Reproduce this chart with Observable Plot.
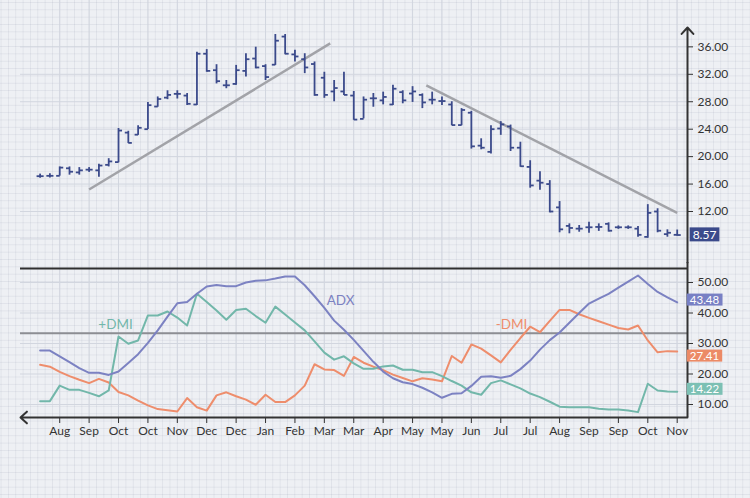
<!DOCTYPE html>
<html>
<head>
<meta charset="utf-8">
<script src="https://cdn.jsdelivr.net/npm/d3@7"></script>
<script src="https://cdn.jsdelivr.net/npm/@observablehq/plot@0.6"></script>
<style>
html, body { margin: 0; padding: 0; background: #eef0f4; }
#wrap {
  position: relative; width: 750px; height: 498px; overflow: hidden;
  background-color: #eef0f4;
  background-image:
    linear-gradient(to right, rgba(160,166,184,0.18) 1px, transparent 1px),
    linear-gradient(to bottom, rgba(160,166,184,0.18) 1px, transparent 1px);
  background-size: 7.35px 7.35px;
  background-position: 0.6px 2px;
  font-family: Lato, sans-serif;
}
#top, #bot { position: absolute; left: 0; }
#top { top: 0; }
#bot { top: 262px; }
</style>
</head>
<body>
<div id="wrap"><div id="top"></div><div id="bot"></div></div>
<script>
// ---------- DATA ----------
const monthLabels = ["Aug","Sep","Oct","Oct","Nov","Dec","Dec","Jan","Feb","Mar","Mar","Apr","May","May","Jun","Jul","Jul","Aug","Sep","Sep","Oct","Nov"];
const priceTicks = [12, 16, 20, 24, 28, 32, 36];
const indicatorTicks = [10, 20, 30, 40, 50];

const opens  = [17.15,17.2,17.2,18.3,17.7,18.1,18.0,18.8,19.2,23.5, 23.2,24.0,27.3,28.6,29.15,28.9,27.6,35.0,32.6,30.4, 30.6,32.5,34.3,33.2,33.4,37.5,34.9,34.2,33.5,31.5, 29.5,29.5,28.9,25.5,28.5,28.2,27.6,29.4,29.2,29.0, 28.3,28.1,27.6,24.6,26.4,21.6,20.7,24.1,24.4,21.3, 18.5,16.5,16.0,12.6,9.9,9.5,9.7,9.75,10.2,9.7, 9.7,9.5,8.3,12.0,8.7,8.6];
const highs  = [17.45,17.5,18.5,18.5,18.4,18.4,18.9,19.7,24.1,23.7, 24.5,27.9,28.7,29.6,29.6,29.2,35.2,35.6,33.4,31.1, 33.3,35.0,35.95,33.4,37.8,37.8,35.5,35.0,33.8,32.3, 31.1,32.3,29.5,28.7,29.2,29.4,30.4,29.6,30.2,29.15, 29.4,28.7,28.0,27.0,26.6,22.6,24.5,25.1,24.6,22.1, 19.4,17.8,16.5,13.45,10.2,9.96,10.45,10.2,10.35,9.9, 9.9,9.8,13.0,12.4,9.33,9.3];
const lows   = [16.85,16.9,17.15,17.3,17.3,17.7,17.0,18.5,19.1,21.9, 23.1,23.95,27.2,28.3,28.4,27.45,27.45,32.3,30.6,29.9, 30.4,31.6,32.8,31.1,33.3,34.85,33.8,32.1,28.8,28.5, 28.0,28.9,25.3,25.5,27.2,27.55,27.45,27.7,27.9,27.0, 27.55,27.45,24.5,24.5,21.1,21.0,20.4,23.1,20.75,18.45, 15.4,15.1,11.8,8.9,8.75,8.98,8.83,9.1,9.0,9.4, 9.4,8.25,8.1,8.9,8.25,8.4];
const closes = [17.15,17.2,18.4,17.8,18.0,18.1,18.7,19.3,23.8,22.0, 24.2,27.5,28.4,29.0,29.15,27.7,35.0,32.5,31.0,30.4, 32.6,34.2,33.0,31.6,36.9,35.0,34.6,33.0,29.0,29.0, 30.0,29.0,25.4,28.3,28.5,28.7,29.9,28.2,29.5,27.9, 28.3,28.1,24.6,26.8,21.5,21.3,24.0,24.7,21.3,18.6, 15.8,16.2,12.0,9.4,9.6,9.5,9.7,9.75,9.2,9.7, 9.7,8.6,11.8,9.2,8.9,8.57];

const adx     = [27.7,27.7,25.8,23.9,21.9,20.4,20.4,19.7,20.8,23.6, 26.5,30.2,34.3,38.8,43.2,43.6,46.3,48.7,49.2,48.8, 48.8,50.0,50.6,50.7,51.3,52.0,52.0,49.1,45.5,41.7, 37.5,34.5,31.2,27.6,24.0,20.8,18.6,17.3,16.7,15.5, 14.0,12.2,13.5,13.7,16.1,19.1,19.3,18.75,19.4,21.6, 24.4,28.0,31.1,33.6,36.8,40.0,43.1,44.7,46.3,48.3, 50.3,52.3,49.5,46.9,45.1,43.48];
const plusDMI = [11.1,11.1,16.2,14.8,14.8,13.8,12.7,14.6,32.3,29.9, 31.0,39.2,39.2,40.5,38.5,35.9,46.3,43.6,40.8,37.8, 41.0,41.4,39.0,36.8,42.1,39.5,36.9,34.3,30.7,27.0, 24.7,25.8,23.5,21.7,21.7,22.5,22.8,21.4,21.4,20.6, 20.6,19.3,17.7,16.2,14.0,13.2,17.0,17.9,16.6,15.3, 13.6,12.4,10.9,9.3,9.1,9.1,9.1,8.6,8.4,8.4, 8.0,7.5,16.8,14.6,14.3,14.22];
const minusDMI= [23.0,22.4,20.7,19.3,18.1,17.0,18.4,17.2,14.1,13.0, 11.3,9.7,8.5,8.1,7.7,12.1,9.1,8.0,13.0,14.0, 12.7,11.6,9.9,13.2,10.8,10.8,13.0,16.2,23.2,21.5, 21.3,19.4,25.6,23.7,22.4,21.3,19.8,18.7,17.6,18.6, 18.2,17.6,25.9,23.7,29.7,28.3,26.1,23.8,27.9,31.8, 35.5,33.7,37.4,41.0,41.0,39.6,38.4,37.3,36.2,35.1, 34.6,35.9,31.0,27.1,27.5,27.41];

const trendUpX = [5, 29.6],    trendUpV = [15.2, 36.5];
const trendDownX = [39.4, 65], trendDownV = [30.4, 11.8];
const levelUpper = 54.6, levelMid = 33.4;

// ---------- STYLE ----------
const NAVY = "#3b4a8b", C_ADX = "#7c82c2", C_PLUS = "#72b7aa", C_MINUS = "#ee8d6c";
const BOX_ADX = "#7880c4", BOX_PLUS = "#7cc0b4", BOX_MINUS = "#ec8a66";
const AXIS = "#333333", GRID = "#d2d6df", TREND = "#a2a3a8";
const N = closes.length;
const idx = d3.range(N);
const tickIdx = monthLabels.map((_, k) => 2 + 3 * k);
const X_DOMAIN = [-2, 66.05];
const XR = X_DOMAIN[1];
const fmt = d3.format(".2f");
const baseStyle = {background: "transparent", fontFamily: "Lato, sans-serif", fontSize: "12px", color: AXIS, overflow: "visible"};

const bars = idx.map(i => ({i, o: opens[i], h: highs[i], l: lows[i], c: closes[i]}));
const trends = [
  {x1: trendUpX[0], x2: trendUpX[1], y1: trendUpV[0], y2: trendUpV[1]},
  {x1: trendDownX[0], x2: trendDownX[1], y1: trendDownV[0], y2: trendDownV[1]}
];

const topY = [4.566, 42.76];
const topPlot = Plot.plot({
  width: 750, height: 262,
  marginLeft: 20, marginRight: 63, marginTop: 0, marginBottom: 0,
  style: baseStyle,
  x: {domain: X_DOMAIN, axis: null},
  y: {domain: topY, axis: "right", ticks: priceTicks, tickFormat: fmt, tickSize: 5, tickPadding: 5, label: null},
  marks: [
    Plot.gridX(tickIdx, {stroke: GRID, strokeOpacity: 1}),
    Plot.gridY([8, ...priceTicks], {stroke: GRID, strokeOpacity: 1}),
    Plot.link(trends, {x1: "x1", x2: "x2", y1: "y1", y2: "y2", stroke: TREND, strokeWidth: 2.5}),
    Plot.ruleX(bars, {x: "i", y1: "l", y2: "h", stroke: NAVY, strokeWidth: 1.8}),
    Plot.link(bars, {x1: d => d.i - 0.36, x2: "i", y1: "o", y2: "o", stroke: NAVY, strokeWidth: 1.8}),
    Plot.link(bars, {x1: "i", x2: d => d.i + 0.36, y1: "c", y2: "c", stroke: NAVY, strokeWidth: 1.8}),
    Plot.arrow([0], {x1: XR, x2: XR, y1: topY[0], y2: 38.82, stroke: AXIS, strokeWidth: 2, headLength: 6.5, headAngle: 85}),
    Plot.text([closes[N - 1]], {x: XR, y: d => d, text: d => fmt(d), dx: 17, fill: "white", fontSize: 12})
  ]
});

const botY = [5.74, 56.56];
const series = [
  {name: "ADX", values: adx, color: C_ADX},
  {name: "+DMI", values: plusDMI, color: C_PLUS},
  {name: "-DMI", values: minusDMI, color: C_MINUS}
];
const lineData = series.flatMap(s => idx.map(i => ({name: s.name, i, v: s.values[i]})));
const seriesLabels = [
  {text: "ADX", i: 30.65, v: 44.1, color: C_ADX},
  {text: "+DMI", i: 7.7, v: 36.2, color: C_PLUS},
  {text: "-DMI", i: 48.1, v: 36.2, color: C_MINUS}
];
const lastVals = [adx[N - 1], minusDMI[N - 1], plusDMI[N - 1]];
const lastShift = [-2, 5, -2];

const botPlot = Plot.plot({
  width: 750, height: 236,
  marginLeft: 20, marginRight: 63, marginTop: 0, marginBottom: 81,
  style: baseStyle,
  x: {domain: X_DOMAIN, ticks: tickIdx, tickFormat: d => monthLabels[Math.round((d - 2) / 3)], tickSize: 6, tickPadding: 3, label: null},
  y: {domain: botY, axis: "right", ticks: indicatorTicks, tickFormat: fmt, tickSize: 5, tickPadding: 5, label: null},
  marks: [
    Plot.gridX(tickIdx, {stroke: GRID, strokeOpacity: 1}),
    Plot.gridY(indicatorTicks, {stroke: GRID, strokeOpacity: 1}),
    Plot.ruleY([levelMid], {x1: X_DOMAIN[0], x2: XR, stroke: "#8d8e93", strokeWidth: 2}),
    Plot.ruleY([levelUpper], {x1: X_DOMAIN[0], x2: XR, stroke: "#2f2f2f", strokeWidth: 2}),
    Plot.line(lineData.filter(d => d.name === "-DMI"), {x: "i", y: "v", stroke: C_MINUS, strokeWidth: 2}),
    Plot.line(lineData.filter(d => d.name === "+DMI"), {x: "i", y: "v", stroke: C_PLUS, strokeWidth: 2}),
    Plot.line(lineData.filter(d => d.name === "ADX"), {x: "i", y: "v", stroke: C_ADX, strokeWidth: 2}),
    Plot.text(seriesLabels, {x: "i", y: "v", text: "text", fill: "color", fontSize: 13.5}),
    Plot.ruleX([XR], {y1: botY[0], y2: botY[1], stroke: AXIS, strokeWidth: 2}),
    Plot.arrow([0], {x1: XR, x2: X_DOMAIN[0], y1: botY[0], y2: botY[0], stroke: AXIS, strokeWidth: 2, headLength: 6.5, headAngle: 85}),
    Plot.text(lastVals, {x: XR, y: d => d, text: d => fmt(d), dx: 17, fill: "white", fontSize: 11.5})
  ]
});

document.getElementById("top").appendChild(topPlot);
document.getElementById("bot").appendChild(botPlot);

// background boxes behind the last-value labels
function addBoxes(svg, values, colors, shifts) {
  const wanted = values.map(fmt);
  svg.querySelectorAll("text").forEach(node => {
    const j = wanted.indexOf(node.textContent);
    if (j < 0 || node.parentNode.getAttribute("fill") !== "white") return;
    if (shifts && shifts[j]) {
      const t = node.getAttribute("transform") || "";
      node.setAttribute("transform", t + ` translate(0,${shifts[j]})`);
    }
    const b = node.getBBox();
    const rect = document.createElementNS("http://www.w3.org/2000/svg", "rect");
    const t = node.getAttribute("transform");
    if (t) rect.setAttribute("transform", t);
    rect.setAttribute("x", b.x - 3);
    rect.setAttribute("y", b.y + 0.5);
    rect.setAttribute("width", b.width + 6);
    rect.setAttribute("height", b.height - 1);
    rect.setAttribute("fill", colors[j]);
    node.parentNode.insertBefore(rect, node);
  });
}
addBoxes(topPlot, [closes[N - 1]], [NAVY], null);
addBoxes(botPlot, lastVals, [BOX_ADX, BOX_MINUS, BOX_PLUS], lastShift);
</script>
</body>
</html>
